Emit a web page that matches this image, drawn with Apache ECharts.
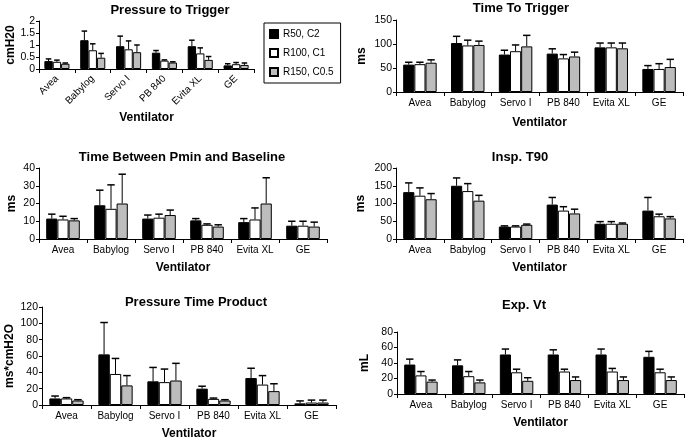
<!DOCTYPE html>
<html>
<head>
<meta charset="utf-8">
<script src="https://cdn.jsdelivr.net/npm/echarts@6/dist/echarts.min.js"></script>
<style>
html,body{margin:0;padding:0;background:#fff;}
#chart{width:685px;height:441px;}
</style>
</head>
<body>
<div id="chart"></div>
<script>
// ---- data ----
const categories = ['Avea', 'Babylog', 'Servo I', 'PB 840', 'Evita XL', 'GE'];
const seriesNames = ['R50, C2', 'R100, C1', 'R150, C0.5'];

// Pressure to Trigger (cmH20): means and SD per condition
const pttMean = [
  [0.33, 1.20, 0.95, 0.68, 0.95, 0.15],
  [0.30, 0.78, 0.82, 0.35, 0.65, 0.20],
  [0.22, 0.47, 0.70, 0.27, 0.38, 0.17]
];
const pttSD = [
  [0.09, 0.38, 0.42, 0.09, 0.25, 0.07],
  [0.07, 0.27, 0.35, 0.03, 0.23, 0.07],
  [0.03, 0.18, 0.30, 0.03, 0.14, 0.08]
];

// Time To Trigger (ms)
const ttMean = [
  [57, 102, 78, 80, 93, 48],
  [58, 97, 85, 70, 93, 48],
  [61, 98, 95, 74, 91, 52]
];
const ttSD = [
  [5, 14, 9, 10, 9, 7],
  [4, 11, 13, 8, 9, 11],
  [6, 8, 23, 9, 11, 16]
];

// Time Between Pmin and Baseline (ms)
const tbMean = [
  [11.5, 19, 11.5, 10.5, 9.5, 7.5],
  [11, 17, 12, 8, 11, 7.5],
  [10.5, 20, 13.5, 7, 20, 7]
];
const tbSD = [
  [2.5, 8.5, 2, 1, 2, 2.5],
  [1.8, 13.5, 2, 0.5, 6.5, 2.5],
  [1, 16.5, 2.8, 1, 14.5, 2.5]
];

// Insp. T90 (ms)
const t90Mean = [
  [132, 150, 35, 97, 43, 80],
  [122, 135, 35, 80, 43, 64],
  [112, 108, 40, 72, 43, 58]
];
const t90SD = [
  [26, 22, 2, 20, 6, 37],
  [22, 21, 2, 11, 6, 6],
  [16, 15, 2, 12, 2, 5]
];

// Pressure Time Product (ms*cmH2O)
const ptpMean = [
  [8, 62, 29, 20, 33, 2],
  [8, 38, 28, 7.5, 25, 3],
  [5.5, 24, 30, 5.5, 17, 3]
];
const ptpSD = [
  [3, 39, 17, 3, 12, 3],
  [1, 19, 16, 1, 11, 3],
  [1, 12, 21, 1, 9, 3]
];

// Exp. Vt (mL)
const vtMean = [
  [38, 37, 51, 51, 51, 48],
  [24, 23, 28, 29, 29, 28],
  [16, 15, 17, 18, 18, 18]
];
const vtSD = [
  [7, 7, 7, 6, 7, 7],
  [5, 6, 4, 3, 4, 4],
  [2, 3, 4, 4, 4, 4]
];

// ---- layout / style ----
const FONT = 'Liberation Sans, Arial, sans-serif';
const colors = ['#000000', '#ffffff', '#bdbdbd'];
const CAT_GAP = 0.30;

const panels = [
  {title: 'Pressure to Trigger', yName: 'cmH20', mean: pttMean, sd: pttSD, max: 2, interval: 0.5,
   grid: {left: 39, top: 21, width: 215, height: 48}, tx: 170, ty: 10, xGap: 43, yGap: 22, rotate: 45},
  {title: 'Time To Trigger', yName: 'ms', mean: ttMean, sd: ttSD, max: 150, interval: 50,
   grid: {left: 396, top: 20, width: 287, height: 72}, tx: 521, ty: 8, xGap: 25, yGap: 28, rotate: 0},
  {title: 'Time Between Pmin and Baseline', yName: 'ms', mean: tbMean, sd: tbSD, max: 40, interval: 10,
   grid: {left: 39, top: 168, width: 288, height: 71}, tx: 182, ty: 157, xGap: 23, yGap: 21, rotate: 0},
  {title: 'Insp. T90', yName: 'ms', mean: t90Mean, sd: t90SD, max: 200, interval: 50,
   grid: {left: 396, top: 168, width: 287, height: 71}, tx: 520, ty: 157, xGap: 23, yGap: 29, rotate: 0},
  {title: 'Pressure Time Product', yName: 'ms*cmH2O', mean: ptpMean, sd: ptpSD, max: 120, interval: 20,
   grid: {left: 42, top: 307, width: 294, height: 98}, tx: 196, ty: 302, xGap: 23, yGap: 26, rotate: 0},
  {title: 'Exp. Vt', yName: 'mL', mean: vtMean, sd: vtSD, max: 80, interval: 20,
   grid: {left: 397, top: 332, width: 287, height: 62}, tx: 524, ty: 305, xGap: 23, yGap: 26, rotate: 0}
];

const grids = [], xAxes = [], yAxes = [], series = [], graphics = [];

panels.forEach((p, gi) => {
  grids.push(Object.assign({containLabel: false}, p.grid));
  xAxes.push({
    type: 'category', gridIndex: gi, data: categories,
    name: 'Ventilator', nameLocation: 'middle', nameGap: p.xGap,
    nameTextStyle: {fontFamily: FONT, fontWeight: 'bold', fontSize: 12, color: '#000'},
    axisLine: {lineStyle: {color: '#000', width: 1}},
    axisTick: {show: true, length: 4, interval: 0, lineStyle: {color: '#000'}},
    axisLabel: {interval: 0, rotate: p.rotate, fontFamily: FONT, fontSize: 10, color: '#000', margin: p.rotate ? 8 : 6},
    splitLine: {show: false}
  });
  yAxes.push({
    type: 'value', gridIndex: gi, min: 0, max: p.max, interval: p.interval,
    name: p.yName, nameLocation: 'middle', nameGap: p.yGap, nameRotate: 90,
    nameTextStyle: {fontFamily: FONT, fontWeight: 'bold', fontSize: 12, color: '#000'},
    axisLine: {show: true, lineStyle: {color: '#000', width: 1}},
    axisTick: {show: true, length: 3, lineStyle: {color: '#000'}},
    axisLabel: {fontFamily: FONT, fontSize: 10.5, color: '#000', margin: 4},
    splitLine: {show: false}
  });
  for (let s = 0; s < 3; s++) {
    series.push({
      type: 'bar', name: seriesNames[s], xAxisIndex: gi, yAxisIndex: gi,
      data: p.mean[s], barGap: '0%', barCategoryGap: (CAT_GAP * 100) + '%',
      itemStyle: {color: colors[s], borderColor: '#000', borderWidth: 1},
      emphasis: {disabled: true}, animation: false
    });
  }
  const errData = [];
  for (let s = 0; s < 3; s++) {
    for (let c = 0; c < categories.length; c++) {
      errData.push([c, s, p.mean[s][c], p.sd[s][c]]);
    }
  }
  series.push({
    type: 'custom', xAxisIndex: gi, yAxisIndex: gi, data: errData,
    encode: {x: 0, y: 2}, z: 5, silent: true, animation: false,
    renderItem: function (params, api) {
      const c = api.value(0), s = api.value(1), m = api.value(2), sd = api.value(3);
      const band = api.size([1, 0])[0];
      const bw = band * (1 - CAT_GAP) / 3;
      const cx = api.coord([c, 0])[0] + (s - 1) * bw;
      const y0 = api.coord([c, m])[1];
      const y1 = api.coord([c, m + sd])[1];
      const cap = bw * 0.33;
      return {
        type: 'group',
        children: [
          {type: 'line', shape: {x1: cx, y1: y0, x2: cx, y2: y1}, style: {stroke: '#000', lineWidth: 1}},
          {type: 'line', shape: {x1: cx - cap, y1: y1, x2: cx + cap, y2: y1}, style: {stroke: '#000', lineWidth: 1.5}}
        ]
      };
    }
  });
  graphics.push({
    type: 'text', x: p.tx, y: p.ty,
    style: {text: p.title, font: 'bold 13px ' + FONT, fill: '#000',
      textAlign: 'center', textVerticalAlign: 'middle', align: 'center', verticalAlign: 'middle'}
  });
});

const chart = echarts.init(document.getElementById('chart'), null, {renderer: 'canvas'});
chart.setOption({
  animation: false,
  backgroundColor: '#fff',
  grid: grids, xAxis: xAxes, yAxis: yAxes, series: series,
  graphic: graphics,
  legend: {
    data: seriesNames, orient: 'vertical', left: 264, top: 23,
    borderColor: '#000', borderWidth: 1, padding: [6, 7, 6, 5],
    itemWidth: 8, itemHeight: 8, itemGap: 9, icon: 'rect',
    selectedMode: false,
    textStyle: {fontFamily: FONT, fontSize: 10, color: '#000'}
  }
});
</script>
</body>
</html>
